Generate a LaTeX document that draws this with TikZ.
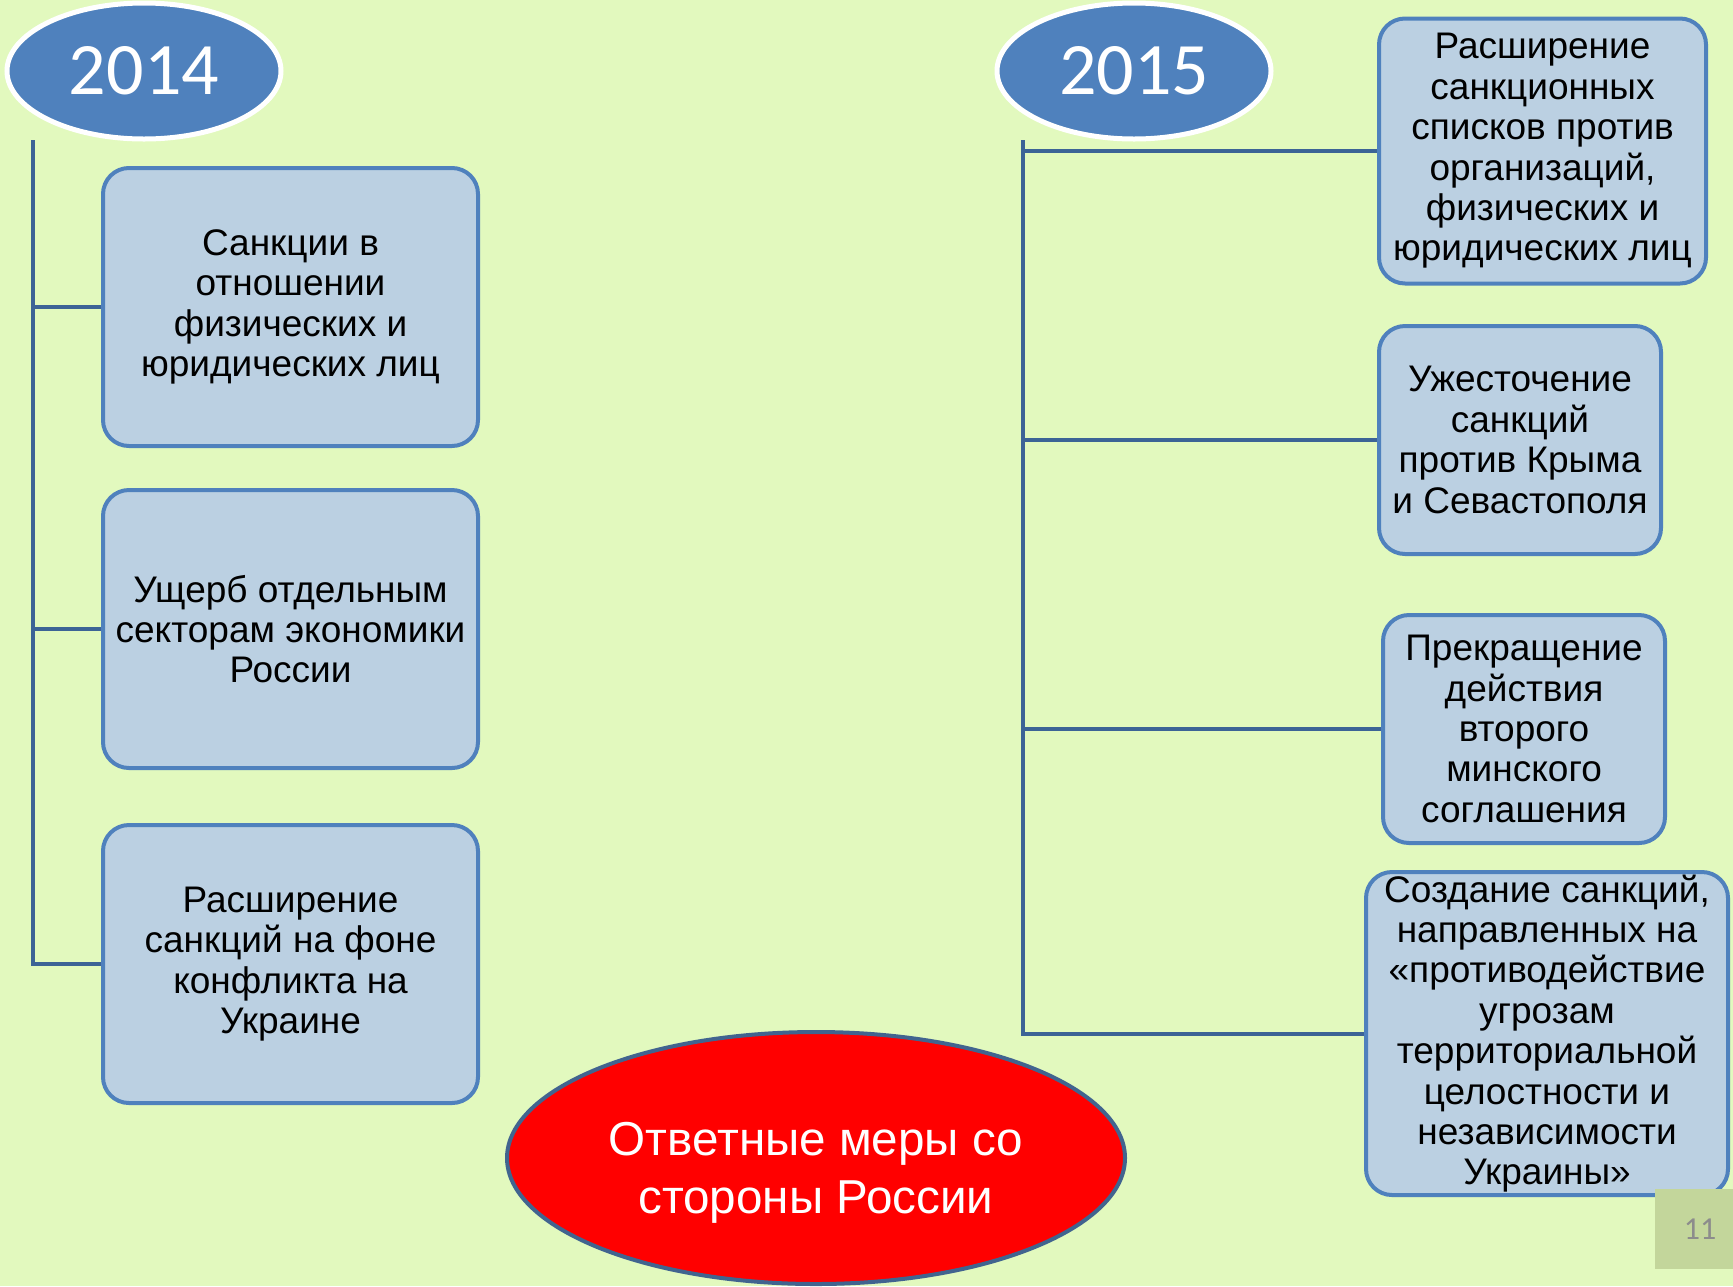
\documentclass[tikz,border=0pt]{standalone}
\usepackage{fontspec}
\setmainfont{Liberation Sans}
\newfontfamily\yearfont{Carlito}
\usepackage{tikz}
\usetikzlibrary{shapes}
\usetikzlibrary{positioning}
\definecolor{bgcol}{RGB}{226,249,190}
\definecolor{yearblue}{RGB}{79,129,189}
\definecolor{boxfill}{RGB}{187,208,226}
\definecolor{boxline}{RGB}{79,129,189}
\definecolor{linecol}{RGB}{60,100,150}
\definecolor{redline}{RGB}{65,100,143}
\definecolor{numfill}{RGB}{195,214,155}
\definecolor{numtext}{RGB}{140,140,140}

\begin{document}
\begin{tikzpicture}[x=0.5pt,y=-0.5pt]
  \tikzstyle{year}=[ellipse, fill=yearblue, draw=white, line width=2.5pt, minimum width=137pt, minimum height=68pt, inner sep=0pt, text=white, font=\yearfont\fontsize{37}{40}\selectfont]
  \tikzstyle{box}=[rectangle, rounded corners=13pt, fill=boxfill, draw=boxline, line width=2pt, align=center, inner sep=0pt, font=\fontsize{18.5}{20.2}\selectfont]
  \tikzstyle{connect}=[draw=linecol, line width=2pt]
  \fill[bgcol] (0,0) rectangle (1733,1286);
  \useasboundingbox (0,0) rectangle (1733,1286);
    % years
    \node[year] (y2014) at (144,71) {2014};
    \node[year] (y2015) at (1134,71) {2015};
    \coordinate (ltop) at (33,140);
    \coordinate (rtop) at (1023,140);
    % 2014
    \node[box, minimum width=187.5pt, minimum height=139pt] (l1) at (290.5,307) {Санкции в\\отношении\\физических и\\юридических лиц};
    \node[box, minimum width=187.5pt, minimum height=139pt] (l2) at (290.5,629) {Ущерб отдельным\\секторам экономики\\России};
    \node[box, minimum width=187.5pt, minimum height=139pt] (l3) at (290.5,964) {Расширение\\санкций на фоне\\конфликта на\\Украине};
    % 2015
    \node[box, minimum width=163.5pt, minimum height=132.5pt] (r1) at (1542.5,151) {Расширение\\санкционных\\списков против\\организаций,\\физических и\\юридических лиц};
    \node[box, minimum width=141pt, minimum height=114pt] (r2) at (1520,440) {Ужесточение\\санкций\\против Крыма\\и Севастополя};
    \node[box, minimum width=141pt, minimum height=114pt] (r3) at (1524,729) {Прекращение\\действия\\второго\\минского\\соглашения};
    \node[box, minimum width=181pt, minimum height=161.5pt] (r4) at (1547,1033.5) {Создание санкций,\\направленных на\\«противодействие\\угрозам\\территориальной\\целостности и\\независимости\\Украины»};
    \path[connect] (ltop) |- (l3.west);
    \path[connect] (rtop) |- (r4.west);
    \path (l1.west -| ltop) edge [connect] (l1.west)
          (l2.west -| ltop) edge [connect] (l2.west)
          (r1.west -| rtop) edge [connect] (r1.west)
          (r2.west -| rtop) edge [connect] (r2.west)
          (r3.west -| rtop) edge [connect] (r3.west);
    % response
    \node[ellipse, fill=red, draw=redline, line width=2pt, minimum width=309pt, minimum height=126pt] (resp) at (816,1158) {};
    \node[text=white, align=center, font=\fontsize{23.8}{29}\selectfont] (resptext) at ([yshift=-7.5pt]resp.center) {Ответные меры со\\стороны России};
    \node[rectangle, fill=numfill, minimum width=39pt, minimum height=40pt, inner sep=0pt, text=numtext, font=\yearfont\fontsize{16}{18}\selectfont] (pnum) at (1694,1229) {\hspace{6pt}11};
\end{tikzpicture}
\end{document}
